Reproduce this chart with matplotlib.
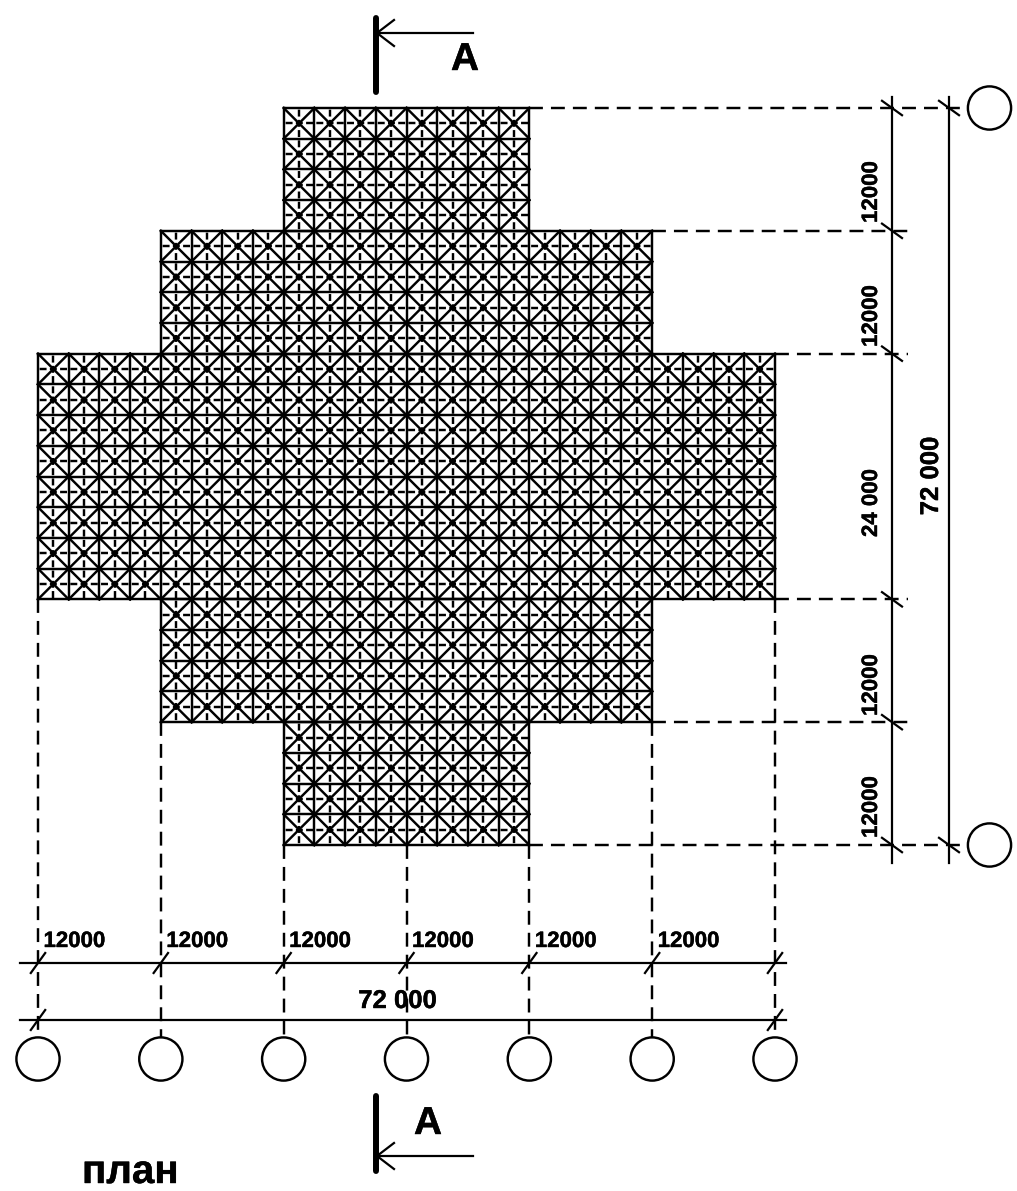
import matplotlib
matplotlib.use("Agg")
import matplotlib.pyplot as plt
import matplotlib.patheffects as pe
from matplotlib.patches import Circle

plt.rcParams["font.family"] = ["Liberation Sans", "DejaVu Sans"]
plt.rcParams["lines.scale_dashes"] = False

# plan data, all in mm
SPAN = 12000
CELL = 3000
TOTAL = 72000
# stepped outline: (x from, x to, y from, y to)
block_x0 = [24000, 12000, 0, 12000, 24000]
block_x1 = [48000, 60000, 72000, 60000, 48000]
block_y0 = [0, 12000, 24000, 48000, 60000]
block_y1 = [12000, 24000, 48000, 60000, 72000]

axis_pos = [0, 12000, 24000, 36000, 48000, 60000, 72000]
ext_bottom_start = [48000, 60000, 72000, 72000, 72000, 60000, 48000]
level_pos = [0, 12000, 24000, 48000, 60000, 72000]
ext_right_start = [48000, 60000, 72000, 72000, 60000, 48000]
level_labels = ["12000", "12000", "24 000", "12000", "12000"]
level_label_px = [192, 316, 503, 685, 807]
span_labels = ["12000"] * 6
total_label = "72 000"

R = 2110

SCALE = 737.0 / TOTAL  # px per mm
X0, Y0 = 38.0, 108.0


def mx(px):
    return (px - X0) / SCALE


def my(px):
    return (px - Y0) / SCALE


DIM_H1 = my(963)
DIM_H2 = my(1020)
DIM_V1 = mx(892)
DIM_V2 = mx(949)
CIRCLE_Y = my(1059)
CIRCLE_X = mx(989.5)

fig = plt.figure(figsize=(10.17, 11.91), dpi=100, facecolor="white")
ax = fig.add_axes([0, 0, 1, 1])
ax.set_xlim(mx(0), mx(1017))
ax.set_ylim(my(1191), my(0))
ax.axis("off")

GRID_LW = 1.75
DIM_LW = 1.6
grid_dash = (6.2, (5.0, 2.37))
ext_dash = (0, (10, 5.8))
heavy = [pe.withStroke(linewidth=0.3, foreground="black")]

# space frame, one block at a time
for x0, x1, y0, y1 in zip(block_x0, block_x1, block_y0, block_y1):
    xs = list(range(x0, x1 + 1, CELL))
    ys = list(range(y0, y1 + 1, CELL))
    for x in xs:
        ax.plot([x, x], [y0, y1], color="black", lw=GRID_LW, solid_capstyle="projecting")
    for y in ys:
        ax.plot([x0, x1], [y, y], color="black", lw=GRID_LW, solid_capstyle="projecting")
    for x in xs[:-1]:
        ax.plot([x + CELL / 2, x + CELL / 2], [y0, y1], color="black", lw=GRID_LW, linestyle=grid_dash)
        for y in ys[:-1]:
            ax.plot([x, x + CELL], [y, y + CELL], color="black", lw=GRID_LW)
            ax.plot([x, x + CELL], [y + CELL, y], color="black", lw=GRID_LW)
    for y in ys[:-1]:
        ax.plot([x0, x1], [y + CELL / 2, y + CELL / 2], color="black", lw=GRID_LW, linestyle=grid_dash)

# extension lines and axis bubbles, bottom
for x, start in zip(axis_pos, ext_bottom_start):
    ax.plot([x, x], [start, CIRCLE_Y - R], color="black", lw=GRID_LW, linestyle=ext_dash)
    ax.add_patch(Circle((x, CIRCLE_Y), R, fill=False, edgecolor="black", lw=GRID_LW))

# extension lines, right side
for y, start in zip(level_pos, ext_right_start):
    end = CIRCLE_X - R if y in (0, TOTAL) else mx(908)
    ax.plot([start, end], [y, y], color="black", lw=GRID_LW, linestyle=ext_dash)
for y in (0, TOTAL):
    ax.add_patch(Circle((CIRCLE_X, y), R, fill=False, edgecolor="black", lw=GRID_LW))

# dimension lines
ax.plot([mx(20), mx(786)], [DIM_H1, DIM_H1], color="black", lw=DIM_LW)
ax.plot([mx(20), mx(786)], [DIM_H2, DIM_H2], color="black", lw=DIM_LW)
ax.plot([DIM_V1, DIM_V1], [my(97), my(863)], color="black", lw=DIM_LW)
ax.plot([DIM_V2, DIM_V2], [my(97), my(863)], color="black", lw=DIM_LW)

# slash ticks
dx, dy = 7.2 / SCALE, 10 / SCALE
for x in axis_pos:
    ax.plot([x - dx, x + dx], [DIM_H1 + dy, DIM_H1 - dy], color="black", lw=DIM_LW)
for x in (0, TOTAL):
    ax.plot([x - dx, x + dx], [DIM_H2 + dy, DIM_H2 - dy], color="black", lw=DIM_LW)
for y in level_pos:
    ax.plot([DIM_V1 - dy, DIM_V1 + dy], [y - dx, y + dx], color="black", lw=DIM_LW)
for y in (0, TOTAL):
    ax.plot([DIM_V2 - dy, DIM_V2 + dy], [y - dx, y + dx], color="black", lw=DIM_LW)

# dimension text
for x, lab in zip(axis_pos[:-1], span_labels):
    ax.text(x + 5.5 / SCALE, my(947), lab, fontsize=16, fontweight="bold", ha="left", va="baseline",
            path_effects=heavy)
ax.text(mx(397.5), my(1008), total_label, fontsize=18.5, fontweight="bold", ha="center", va="baseline",
        path_effects=heavy)
for lab, yc in zip(level_labels, level_label_px):
    ax.text(mx(877), my(yc), lab, fontsize=16, fontweight="bold", rotation=90,
            rotation_mode="anchor", ha="center", va="baseline", path_effects=heavy)
ax.text(mx(938), my(476), total_label, fontsize=18.5, fontweight="bold", rotation=90,
        rotation_mode="anchor", ha="center", va="baseline", path_effects=heavy)

# section marks
for bar0, bar1, arrow_y in [(18, 92, 33), (1096, 1171, 1156)]:
    ax.plot([mx(376), mx(376)], [my(bar0), my(bar1)], color="black", lw=4.3, solid_capstyle="round")
    ax.plot([mx(376), mx(473)], [my(arrow_y), my(arrow_y)], color="black", lw=DIM_LW)
    ax.plot([mx(394), mx(377), mx(394)], [my(arrow_y - 13), my(arrow_y), my(arrow_y + 13)],
            color="black", lw=DIM_LW)
ax.text(mx(465), my(70), "A", fontsize=28, fontweight="bold", ha="center", va="baseline", path_effects=heavy)
ax.text(mx(428), my(1134), "A", fontsize=28, fontweight="bold", ha="center", va="baseline", path_effects=heavy)
ax.text(mx(82), my(1183), "план", fontsize=29, fontweight="bold", ha="left", va="baseline", path_effects=heavy)

fig.savefig("out.png", dpi=100, facecolor="white")
